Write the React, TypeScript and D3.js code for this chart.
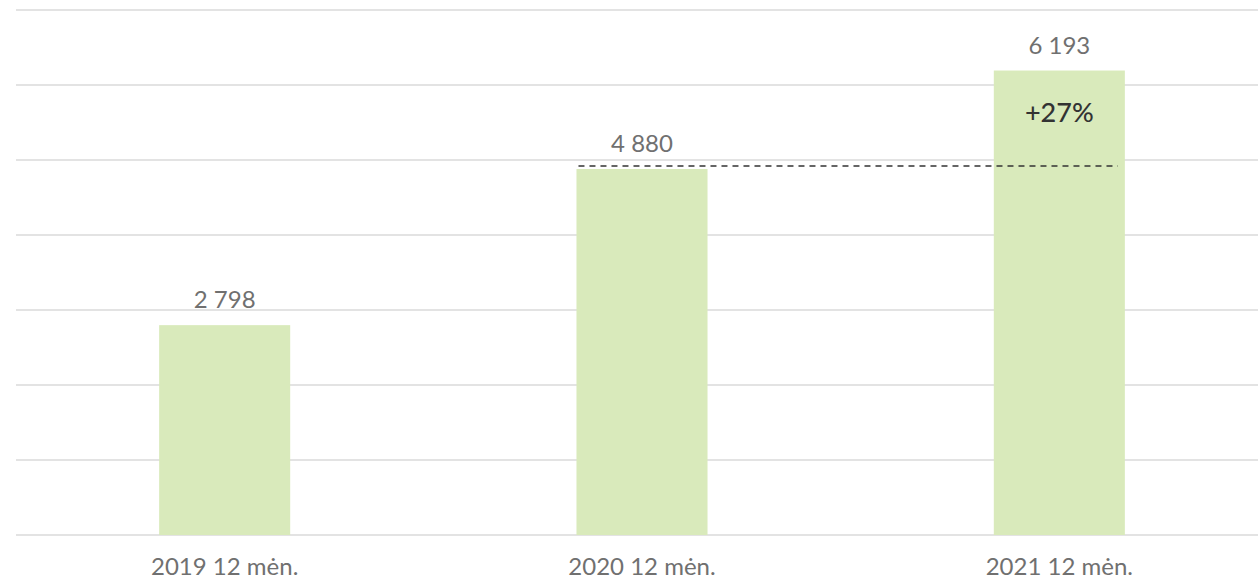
import { useMemo } from "react";
import { scaleBand, scaleLinear, range } from "d3";

const WIDTH = 1258;
const HEIGHT = 580;

const categories = ["2019 12 mėn.", "2020 12 mėn.", "2021 12 mėn."];
const values = [2798, 4880, 6193];
const yTicks = [0, 1000, 2000, 3000, 4000, 5000, 6000, 7000];
const growthLabel = "+27%";

const FONT = "Lato, 'Open Sans', sans-serif";

function fmt(v: number) {
  return String(v).replace(/\B(?=(\d{3})+(?!\d))/g, " ");
}

export default function App() {
  const x = useMemo(
    () =>
      scaleBand<string>()
        .domain(categories)
        .range([16, 1268])
        .paddingInner(0.686)
        .paddingOuter(0.343),
    []
  );
  const y = useMemo(
    () => scaleLinear().domain([0, 7000]).range([535, 10]),
    []
  );

  const bw = x.bandwidth();
  const prev = values[1];
  const last = values[2];
  const dashY = y(prev) - 3;

  return (
    <svg
      width={WIDTH}
      height={HEIGHT}
      style={{ position: "absolute", left: 0, top: 0, background: "#fff" }}
    >
      {yTicks.map((t) => (
        <line
          key={t}
          x1={16}
          x2={WIDTH}
          y1={y(t)}
          y2={y(t)}
          stroke="#e3e3e3"
          strokeWidth={2}
        />
      ))}

      {range(values.length).map((i) => (
        <g key={categories[i]}>
          <rect
            x={x(categories[i])}
            y={y(values[i])}
            width={bw}
            height={y(0) - y(values[i])}
            fill="#d9eabb"
          />
          <text
            x={(x(categories[i]) ?? 0) + bw / 2}
            y={y(values[i]) - 17}
            textAnchor="middle"
            fontFamily={FONT}
            fontSize={24}
            fill="#707070"
          >
            {fmt(values[i])}
          </text>
          <text
            x={(x(categories[i]) ?? 0) + bw / 2}
            y={575}
            textAnchor="middle"
            fontFamily={FONT}
            fontSize={24}
            fill="#707070"
          >
            {categories[i]}
          </text>
        </g>
      ))}

      <line
        x1={(x(categories[1]) ?? 0) + 2}
        x2={(x(categories[2]) ?? 0) + bw - 7}
        y1={dashY}
        y2={dashY}
        stroke="#333"
        strokeWidth={1.5}
        strokeDasharray="6 5"
      />
      <text
        x={(x(categories[2]) ?? 0) + bw / 2}
        y={y(last) + 51}
        textAnchor="middle"
        fontFamily={FONT}
        fontSize={27}
        fontWeight={500}
        fill="#333"
      >
        {growthLabel}
      </text>
    </svg>
  );
}
